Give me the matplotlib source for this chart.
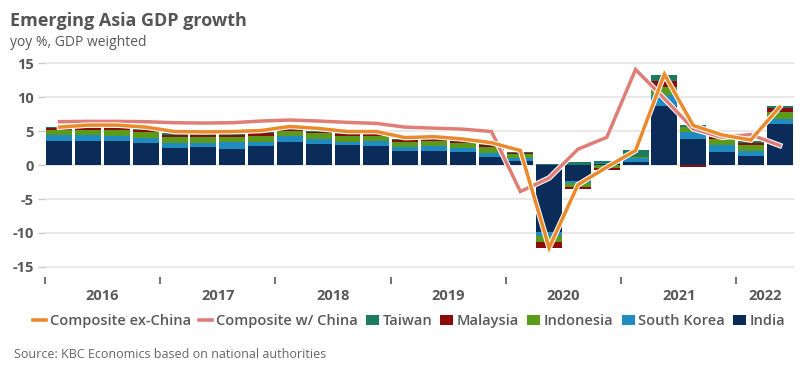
import numpy as np
import matplotlib
matplotlib.use("Agg")
import matplotlib.pyplot as plt
from matplotlib.lines import Line2D
from matplotlib.patches import Patch
import matplotlib.patheffects as pe

quarters = ["2016Q1", "2016Q2", "2016Q3", "2016Q4", "2017Q1", "2017Q2", "2017Q3", "2017Q4",
            "2018Q1", "2018Q2", "2018Q3", "2018Q4", "2019Q1", "2019Q2", "2019Q3", "2019Q4",
            "2020Q1", "2020Q2", "2020Q3", "2020Q4", "2021Q1", "2021Q2", "2021Q3", "2021Q4",
            "2022Q1", "2022Q2"]
years = ["2016", "2017", "2018", "2019", "2020", "2021", "2022"]

india = [3.6, 3.5, 3.6, 3.3, 2.5, 2.65, 2.4, 2.75, 3.37, 3.1, 2.9, 2.75, 2.15, 2.15, 1.9, 1.15,
         0.65, -9.8, -2.4, 0.15, 0.5, 8.7, 3.85, 1.9, 1.4, 6.1]
south_korea = [0.85, 1.0, 0.65, 0.65, 0.8, 0.65, 1.0, 0.7, 0.85, 0.8, 0.55, 0.85, 0.55, 0.65, 0.6, 0.65,
               0.4, -0.7, -0.3, 0.1, 0.55, 1.65, 1.1, 1.1, 0.74, 0.7]
indonesia = [0.8, 0.75, 1.0, 1.0, 0.85, 0.8, 0.75, 0.9, 0.8, 0.8, 0.9, 0.75, 0.75, 0.8, 0.75, 0.85,
             0.55, -0.8, -0.6, -0.45, 0.1, 1.15, 0.65, 0.87, 0.89, 1.0]
malaysia = [0.25, 0.25, 0.25, 0.2, 0.35, 0.35, 0.3, 0.35, 0.25, 0.25, 0.3, 0.3, 0.25, 0.2, 0.3, 0.25,
            0.15, -0.95, -0.15, -0.25, 0.05, 0.95, -0.25, 0.23, 0.24, 0.6]
taiwan = [0.05, 0.05, 0.05, 0.2, 0.25, 0.15, 0.15, 0.25, 0.15, 0.15, 0.15, 0.2, 0.2, 0.15, 0.2, 0.3,
          0.25, 0.1, 0.4, 0.4, 1.0, 0.85, 0.35, 0.25, 0.33, 0.3]
composite_ex_china = [5.6, 5.9, 5.9, 5.6, 4.95, 4.9, 4.95, 5.1, 5.7, 5.4, 4.95, 4.95, 4.05, 4.2, 3.85, 3.3,
                      2.15, -12.2, -2.9, -0.3, 2.15, 13.4, 5.85, 4.45, 3.7, 8.55]
composite_w_china = [6.4, 6.45, 6.45, 6.4, 6.25, 6.2, 6.25, 6.5, 6.65, 6.5, 6.3, 6.15, 5.6, 5.45, 5.3, 4.95,
                     -3.9, -1.9, 2.35, 4.1, 14.1, 9.8, 5.35, 4.1, 4.5, 2.9]

series = [("India", india, "#0b2c58"),
          ("South Korea", south_korea, "#1f8bc0"),
          ("Indonesia", indonesia, "#5c9a1c"),
          ("Malaysia", malaysia, "#8c0b0b"),
          ("Taiwan", taiwan, "#1b7a60")]

TXT = "#595959"
fig = plt.figure(figsize=(8.12, 3.75), dpi=100)
ax = fig.add_axes([45/812, 1-277/375, (794-45)/812, (277-60)/375])

x = np.arange(len(quarters))
pos = np.zeros(len(x))
neg = np.zeros(len(x))
for name, vals, col in series:
    v = np.array(vals)
    bottoms = np.where(v >= 0, pos, neg)
    ax.bar(x, v, bottom=bottoms, width=0.9, color=col, edgecolor="none", zorder=2)
    pos = pos + np.where(v >= 0, v, 0)
    neg = neg + np.where(v < 0, v, 0)

halo = [pe.Stroke(linewidth=4.0, foreground="white"), pe.Normal()]
ax.plot(x, composite_w_china, color="#de7e76", lw=2.5, zorder=3, path_effects=halo,
        solid_joinstyle="miter")
ax.plot(x, composite_ex_china, color="#e98a2c", lw=2.5, zorder=4, path_effects=halo,
        solid_joinstyle="miter")

ax.set_xlim(-0.5, len(x) - 0.5)
ax.set_ylim(-16.5, 15.5)
ax.set_yticks([-15, -10, -5, 0, 5, 10, 15])
ax.set_yticklabels(["-15", "-10", "-5", "0", "5", "10", "15"])
ax.yaxis.grid(True, color="#e4e4e4", lw=1.2, zorder=0)
ax.set_axisbelow(True)
for s in ax.spines.values():
    s.set_visible(False)

ax.tick_params(axis="y", length=5, color="#c8c8c8", width=1, pad=3, labelsize=10.5,
               labelcolor=TXT)
for lab in ax.get_yticklabels():
    lab.set_fontweight("bold")
    lab.set_fontfamily("Open Sans")

bounds = np.arange(-0.5, len(x) - 1, 4)
ax.set_xticks(bounds)
ax.set_xticklabels([])
ax.tick_params(axis="x", which="major", length=5, color="#595959", width=1.2, direction="out")
centers = [1.5 + 4 * i for i in range(6)] + [24.5]
ax.set_xticks(centers, minor=True)
ax.set_xticklabels(years, minor=True)
ax.tick_params(axis="x", which="minor", length=0, pad=9, labelsize=10.5, labelcolor=TXT)
for lab in ax.get_xticklabels(minor=True):
    lab.set_fontweight("bold")
    lab.set_fontfamily("Open Sans")

fig.text(10/812, 1-26/375, "Emerging Asia GDP growth", fontsize=13, fontweight="bold",
         color="#555555", family="Open Sans", va="baseline")
fig.text(10/812, 1-46/375, "yoy %, GDP weighted", fontsize=10, color=TXT,
         family="Open Sans", va="baseline")
fig.text(14/812, 1-358/375, "Source: KBC Economics based on national authorities", fontsize=9,
         color="#666666", family="Open Sans", va="baseline")

handles = [Line2D([], [], color="#e98a2c", lw=2.6),
           Line2D([], [], color="#de7e76", lw=2.6)]
labels = ["Composite ex-China", "Composite w/ China"]
for name, vals, col in reversed(series):
    handles.append(Patch(facecolor=col, edgecolor="none"))
    labels.append(name)
leg = fig.legend(handles, labels, loc="center", bbox_to_anchor=(0.504, 1-321/375), ncol=7,
                 frameon=False, handlelength=0.9, handleheight=0.7, handletextpad=0.25,
                 columnspacing=0.55, prop={"family": "Open Sans", "weight": "semibold", "size": 10.5})
for t in leg.get_texts():
    t.set_color(TXT)

fig.savefig("out.png", dpi=100)
